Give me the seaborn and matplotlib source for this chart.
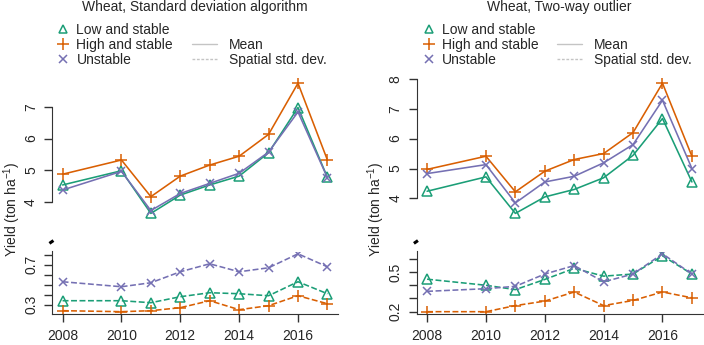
import matplotlib
matplotlib.use("Agg")
import matplotlib.pyplot as plt
from matplotlib.lines import Line2D
import seaborn as sns

# data
years = [2008, 2010, 2011, 2012, 2013, 2014, 2015, 2016, 2017]
groups = ["Low and stable", "High and stable", "Unstable"]

sd_low_mean = [4.53, 4.98, 3.63, 4.21, 4.53, 4.81, 5.55, 6.98, 4.77]
sd_high_mean = [4.87, 5.32, 4.16, 4.81, 5.16, 5.44, 6.13, 7.75, 5.32]
sd_unst_mean = [4.37, 4.96, 3.72, 4.26, 4.58, 4.90, 5.57, 6.84, 4.76]
sd_low_std = [0.34, 0.34, 0.32, 0.38, 0.42, 0.41, 0.39, 0.53, 0.41]
sd_high_std = [0.24, 0.23, 0.24, 0.27, 0.34, 0.25, 0.29, 0.39, 0.31]
sd_unst_std = [0.53, 0.48, 0.52, 0.63, 0.71, 0.63, 0.67, 0.81, 0.68]

tw_low_mean = [4.24, 4.72, 3.50, 4.05, 4.30, 4.69, 5.44, 6.67, 4.55]
tw_high_mean = [4.97, 5.41, 4.22, 4.91, 5.30, 5.50, 6.20, 7.85, 5.41]
tw_unst_mean = [4.83, 5.13, 3.85, 4.55, 4.74, 5.19, 5.80, 7.28, 5.00]
tw_low_std = [0.446, 0.400, 0.367, 0.444, 0.528, 0.469, 0.485, 0.623, 0.485]
tw_high_std = [0.200, 0.200, 0.246, 0.280, 0.349, 0.246, 0.285, 0.349, 0.305]
tw_unst_std = [0.354, 0.374, 0.392, 0.485, 0.549, 0.426, 0.485, 0.638, 0.485]

colors = ["#1b9e77", "#d95f02", "#7570b3"]
markers = ["^", "+", "x"]
msizes = [6.5, 8.5, 6]

sns.set_style("ticks")
plt.rcParams['font.family'] = ['Liberation Sans', 'DejaVu Sans']
plt.rcParams['font.size'] = 10
plt.rcParams['mathtext.default'] = 'regular'

W, H = 704, 345
fig = plt.figure(figsize=(W / 100, H / 100), dpi=100)


def px_axes(x0, top, x1, bottom):
    return fig.add_axes([x0 / W, 1 - bottom / H, (x1 - x0) / W, (bottom - top) / H])


def r_lim(series):
    lo = min(min(s) for s in series)
    hi = max(max(s) for s in series)
    ext = 0.04 * (hi - lo)
    return lo - ext, hi + ext


def draw_series(ax, vals, i, dashed):
    sns.lineplot(x=years, y=vals, ax=ax, color=colors[i], marker=markers[i],
                 markersize=msizes[i], markeredgecolor=colors[i],
                 markerfacecolor='none', markeredgewidth=1.1,
                 linewidth=1.15, linestyle='--' if dashed else '-',
                 dashes=(3.5, 2.5) if dashed else (None, None))


def style_axis(ax):
    ax.tick_params(axis='y', length=6, width=1, pad=4, labelrotation=90,
                   labelsize=10, color='#333333')
    for lbl in ax.get_yticklabels():
        lbl.set_va('center')
    ax.spines['left'].set_color('#333333')


def draw_panel(x0, x1, title, means, stds, top_ticks, bot_ticks, bot_labels,
               leg1_x, leg2_x, ylab_x):
    xlim = (years[0] - 0.04 * (years[-1] - years[0]),
            years[-1] + 0.04 * (years[-1] - years[0]))

    ax_top = px_axes(x0, 78, x1, 218.6)
    for i, vals in enumerate(means):
        draw_series(ax_top, vals, i, False)
    ax_top.set_xlim(xlim)
    ax_top.set_ylim(r_lim(means))
    ax_top.set_yticks(top_ticks)
    ax_top.set_yticklabels([str(t) for t in top_ticks])
    for s in ['top', 'right', 'bottom']:
        ax_top.spines[s].set_visible(False)
    ax_top.spines['left'].set_bounds(top_ticks[0], top_ticks[-1])
    ax_top.set_xticks([])
    ax_top.set_xlabel('')
    ax_top.set_ylabel('')
    style_axis(ax_top)

    ax_bot = px_axes(x0, 251.5, x1, 314)
    for i, vals in enumerate(stds):
        draw_series(ax_bot, vals, i, True)
    ax_bot.set_xlim(xlim)
    ax_bot.set_ylim(r_lim(stds))
    ax_bot.set_yticks(bot_ticks)
    ax_bot.set_yticklabels([lab for lab in bot_labels])
    ax_bot.set_xticks([2008, 2010, 2012, 2014, 2016])
    ax_bot.tick_params(axis='x', length=6, width=1, pad=5, labelsize=10,
                       color='#333333')
    for s in ['top', 'right']:
        ax_bot.spines[s].set_visible(False)
    ax_bot.spines['bottom'].set_color('#333333')
    ax_bot.set_xlabel('')
    ax_bot.set_ylabel('')
    style_axis(ax_bot)

    # axis break mark
    ax_bot.plot([-0.009, 0.005], [1.13, 1.175], transform=ax_bot.transAxes,
                color='black', lw=2.2, clip_on=False, solid_capstyle='butt')

    fig.text((x0 + x1) / 2 / W, 1 - 7 / H, title, ha='center', va='center',
             fontsize=10)
    fig.text(ylab_x / W, 1 - 209 / H, 'Yield (ton ha$^{-1}$)', rotation=90,
             ha='center', va='center', fontsize=10)

    h1 = [Line2D([], [], color=colors[i], marker=markers[i], linestyle='none',
                 markersize=msizes[i] - 0.5, markerfacecolor='none',
                 markeredgewidth=1.1) for i in range(3)]
    fig.legend(h1, groups, loc='upper left',
               bbox_to_anchor=(leg1_x / W, 1 - 22.5 / H), frameon=False,
               handlelength=1.0, handletextpad=0.45, borderpad=0,
               borderaxespad=0, labelspacing=0.08, fontsize=10)
    h2 = [Line2D([], [], color='#c4c4c4', lw=1),
          Line2D([], [], color='#c4c4c4', lw=1, linestyle=(0, (2, 1.2)))]
    fig.legend(h2, ['Mean', 'Spatial std. dev.'], loc='upper left',
               bbox_to_anchor=(leg2_x / W, 1 - 38 / H), frameon=False,
               handlelength=1.8, handletextpad=0.85, borderpad=0,
               borderaxespad=0, labelspacing=0.08, fontsize=10)


draw_panel(52, 338, "Wheat, Standard deviation algorithm",
           [sd_low_mean, sd_high_mean, sd_unst_mean],
           [sd_low_std, sd_high_std, sd_unst_std],
           [4, 5, 6, 7], [0.3, 0.4, 0.5, 0.6, 0.7, 0.8],
           ["0.3", "", "", "", "0.7", ""], 56.3, 191.7, 12)

draw_panel(416.5, 702.5, "Wheat, Two-way outlier",
           [tw_low_mean, tw_high_mean, tw_unst_mean],
           [tw_low_std, tw_high_std, tw_unst_std],
           [4, 5, 6, 7, 8], [0.2, 0.3, 0.4, 0.5, 0.6],
           ["0.2", "", "", "0.5", ""], 421.7, 557, 376)

fig.savefig("out.png", dpi=100)
